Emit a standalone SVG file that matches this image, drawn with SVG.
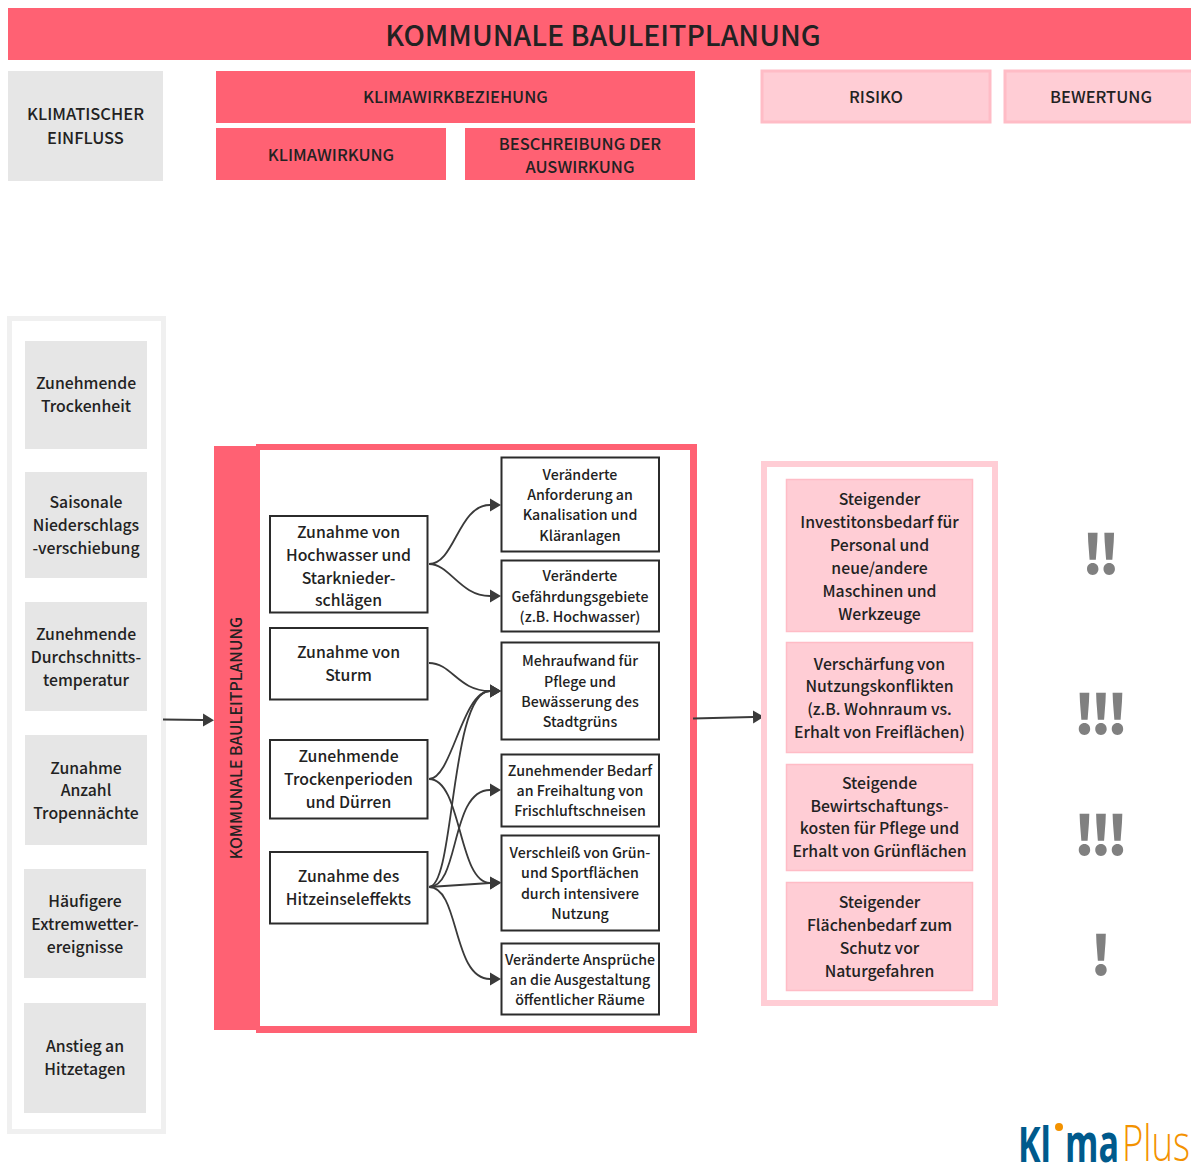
<svg xmlns="http://www.w3.org/2000/svg" width="1191" height="1164" viewBox="0 0 1191 1164">
<style>
text{font-family:"Noto Sans CJK JP","Noto Sans",sans-serif;font-weight:500;fill:#222;text-anchor:middle}
.h{font-size:16.5px}.t{font-size:15.8px}.s{font-size:14.2px}
.red{fill:#ff6173}.gray{fill:#e6e6e6}.pink{fill:#ffcdd5;stroke:#ffbcc6;stroke-width:1.5}
.hp{fill:#ffcdd5;stroke:#ffbcc6;stroke-width:3}
.box{fill:#fff;stroke:#2b2b2b;stroke-width:2}
.c{fill:none;stroke:#3a3a3a;stroke-width:1.8;marker-end:url(#a)}
.ex{font-size:54px;font-weight:900;fill:#808080;letter-spacing:-5px}
.lb{font-family:"Open Sans",sans-serif;font-weight:700;fill:#005a8c;text-anchor:start}
</style>
<defs><marker id="a" markerUnits="userSpaceOnUse" markerWidth="12" markerHeight="14" refX="0" refY="7" orient="auto"><path d="M0 0.500L11 7L0 13.500Z" fill="#3a3a3a"/></marker></defs>
<rect width="1191" height="1164" fill="#fff"/>
<g id="title"><rect class="red" x="8" y="8" width="1183" height="52"/><text x="603" y="46" style="font-size:28.400px">KOMMUNALE BAULEITPLANUNG</text></g>
<g id="h-einfluss"><rect class="gray" x="8" y="71" width="155" height="110"/><text class="h" x="85.500" y="120">KLIMATISCHER</text><text class="h" x="85.500" y="144">EINFLUSS</text></g>
<g id="h-bez"><rect class="red" x="216" y="71" width="479" height="52"/><text class="h" x="455.500" y="103">KLIMAWIRKBEZIEHUNG</text></g>
<g id="h-wirk"><rect class="red" x="216" y="128" width="230" height="52"/><text class="h" x="331" y="161">KLIMAWIRKUNG</text></g>
<g id="h-besch"><rect class="red" x="465" y="128" width="230" height="52"/><text class="h" x="580" y="150">BESCHREIBUNG DER</text><text class="h" x="580" y="173">AUSWIRKUNG</text></g>
<g id="h-risiko"><rect class="hp" x="762" y="71" width="228" height="51"/><text class="h" x="876" y="103">RISIKO</text></g>
<g id="h-bewertung"><rect class="hp" x="1005" y="71" width="190" height="51"/><text class="h" x="1101" y="103">BEWERTUNG</text></g>
<g id="left-frame"><rect x="9.500" y="318.500" width="154" height="813" fill="#fff" stroke="#f0f0f0" stroke-width="5"/></g>
<g id="e1"><rect class="gray" x="25" y="341" width="122" height="108"/><text class="t" x="86" y="389">Zunehmende</text><text class="t" x="86" y="412">Trockenheit</text></g>
<g id="e2"><rect class="gray" x="25" y="472" width="122" height="106"/><text class="t" x="86" y="508">Saisonale</text><text class="t" x="86" y="531">Niederschlags</text><text class="t" x="86" y="554">-verschiebung</text></g>
<g id="e3"><rect class="gray" x="25" y="602" width="122" height="109"/><text class="t" x="86" y="640">Zunehmende</text><text class="t" x="86" y="663">Durchschnitts-</text><text class="t" x="86" y="686">temperatur</text></g>
<g id="e4"><rect class="gray" x="25" y="735" width="122" height="110"/><text class="t" x="86" y="774">Zunahme</text><text class="t" x="86" y="796">Anzahl</text><text class="t" x="86" y="819">Tropennächte</text></g>
<g id="e5"><rect class="gray" x="24" y="869" width="122" height="109"/><text class="t" x="85" y="907">Häufigere</text><text class="t" x="85" y="930">Extremwetter-</text><text class="t" x="85" y="953">ereignisse</text></g>
<g id="e6"><rect class="gray" x="24" y="1003" width="122" height="110"/><text class="t" x="85" y="1052">Anstieg an</text><text class="t" x="85" y="1075">Hitzetagen</text></g>
<g id="frame"><rect class="red" x="214" y="446" width="44" height="584"/><rect class="red" x="256" y="444" width="441" height="589"/><rect x="260" y="450" width="430" height="576" fill="#fff"/><text x="242" y="738" transform="rotate(-90 242 738)" style="font-size:15.800px">KOMMUNALE BAULEITPLANUNG</text></g>
<g id="connectors">
<path class="c" d="M163 719.500L203 720"/>
<path class="c" d="M693 718.500L753 717"/>
<path class="c" d="M429 564C455 564 458 505 490 505"/>
<path class="c" d="M429 564C450 564 460 596 490 596"/>
<path class="c" d="M429 663C452 663 458 691 490 691"/>
<path class="c" d="M429 779C452 779 462 691 490 691"/>
<path class="c" d="M429 887C455 887 450 691 490 691"/>
<path class="c" d="M429 779C462 779 458 883 490 883"/>
<path class="c" d="M429 887C460 887 450 790 490 790"/>
<path class="c" d="M429 887L490 883"/>
<path class="c" d="M429 887C460 887 452 979 490 979"/>
</g>
<g id="c1"><rect class="box" x="270" y="516" width="157.500" height="96.500"/><text class="t" x="348.500" y="538">Zunahme von</text><text class="t" x="348.500" y="561">Hochwasser und</text><text class="t" x="348.500" y="584">Starknieder-</text><text class="t" x="348.500" y="606">schlägen</text></g>
<g id="c2"><rect class="box" x="270" y="628" width="157.500" height="71.500"/><text class="t" x="348.500" y="658">Zunahme von</text><text class="t" x="348.500" y="681">Sturm</text></g>
<g id="c3"><rect class="box" x="270" y="740" width="157.500" height="78.500"/><text class="t" x="348.500" y="762">Zunehmende</text><text class="t" x="348.500" y="785">Trockenperioden</text><text class="t" x="348.500" y="808">und Dürren</text></g>
<g id="c4"><rect class="box" x="270" y="852" width="157.500" height="71.500"/><text class="t" x="348.500" y="882">Zunahme des</text><text class="t" x="348.500" y="905">Hitzeinseleffekts</text></g>
<g id="w1"><rect class="box" x="501.500" y="457.500" width="157.500" height="94"/><text class="s" x="580" y="480">Veränderte</text><text class="s" x="580" y="500">Anforderung an</text><text class="s" x="580" y="520">Kanalisation und</text><text class="s" x="580" y="541">Kläranlagen</text></g>
<g id="w2"><rect class="box" x="501.500" y="560.500" width="157.500" height="71"/><text class="s" x="580" y="581">Veränderte</text><text class="s" x="580" y="602">Gefährdungsgebiete</text><text class="s" x="580" y="622">(z.B. Hochwasser)</text></g>
<g id="w3"><rect class="box" x="501.500" y="642.500" width="157.500" height="97"/><text class="s" x="580" y="666">Mehraufwand für</text><text class="s" x="580" y="687">Pflege und</text><text class="s" x="580" y="707">Bewässerung des</text><text class="s" x="580" y="727">Stadtgrüns</text></g>
<g id="w4"><rect class="box" x="501.500" y="754.500" width="157.500" height="72"/><text class="s" x="580" y="776">Zunehmender Bedarf</text><text class="s" x="580" y="796">an Freihaltung von</text><text class="s" x="580" y="816">Frischluftschneisen</text></g>
<g id="w5"><rect class="box" x="501.500" y="835.500" width="157.500" height="95"/><text class="s" x="580" y="858">Verschleiß von Grün-</text><text class="s" x="580" y="878">und Sportflächen</text><text class="s" x="580" y="899">durch intensivere</text><text class="s" x="580" y="919">Nutzung</text></g>
<g id="w6"><rect class="box" x="501.500" y="943.500" width="157.500" height="71"/><text class="s" x="580" y="965">Veränderte Ansprüche</text><text class="s" x="580" y="985">an die Ausgestaltung</text><text class="s" x="580" y="1005">öffentlicher Räume</text></g>
<g id="risk-frame"><rect x="764" y="464" width="231" height="539" fill="#fff" stroke="#ffcdd5" stroke-width="6"/></g>
<g id="r1"><rect class="pink" x="786.500" y="479.500" width="186" height="152"/><text class="t" x="879.500" y="505">Steigender</text><text class="t" x="879.500" y="528">Investitonsbedarf für</text><text class="t" x="879.500" y="551">Personal und</text><text class="t" x="879.500" y="574">neue/andere</text><text class="t" x="879.500" y="597">Maschinen und</text><text class="t" x="879.500" y="620">Werkzeuge</text></g>
<g id="r2"><rect class="pink" x="786.500" y="642.500" width="186" height="110"/><text class="t" x="879.500" y="670">Verschärfung von</text><text class="t" x="879.500" y="692">Nutzungskonflikten</text><text class="t" x="879.500" y="715">(z.B. Wohnraum vs.</text><text class="t" x="879.500" y="738">Erhalt von Freiflächen)</text></g>
<g id="r3"><rect class="pink" x="786.500" y="764.500" width="186" height="106"/><text class="t" x="879.500" y="789">Steigende</text><text class="t" x="879.500" y="812">Bewirtschaftungs-</text><text class="t" x="879.500" y="834">kosten für Pflege und</text><text class="t" x="879.500" y="857">Erhalt von Grünflächen</text></g>
<g id="r4"><rect class="pink" x="786.500" y="882.500" width="186" height="108"/><text class="t" x="879.500" y="908">Steigender</text><text class="t" x="879.500" y="931">Flächenbedarf zum</text><text class="t" x="879.500" y="954">Schutz vor</text><text class="t" x="879.500" y="977">Naturgefahren</text></g>
<g id="ratings"><text class="ex" x="1098.500" y="574">!!</text><text class="ex" x="1098.500" y="734">!!!</text><text class="ex" x="1098.500" y="855">!!!</text><text class="ex" x="1098.500" y="975">!</text></g>
<g id="logo"><circle cx="1059" cy="1127" r="4" fill="#f39200"/>
<text class="lb" x="1018" y="1162" style="font-size:49px" textLength="33" lengthAdjust="spacingAndGlyphs">Kl</text>
<text class="lb" x="1065" y="1162" style="font-size:54px" textLength="54" lengthAdjust="spacingAndGlyphs">ma</text>
<text x="1122" y="1161" style="font-family:'Open Sans',sans-serif;font-size:50px;font-weight:300;fill:#f39200;text-anchor:start" textLength="68" lengthAdjust="spacingAndGlyphs">Plus</text></g>
</svg>
